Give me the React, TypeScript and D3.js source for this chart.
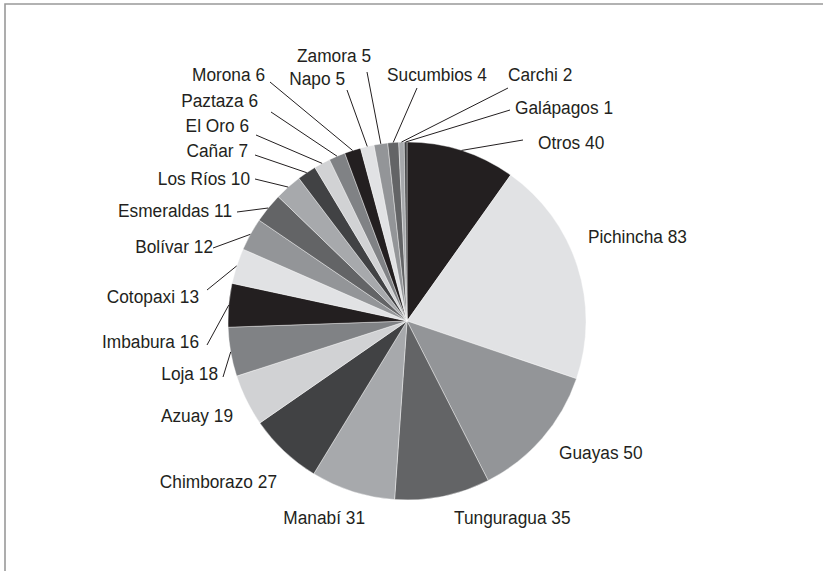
import React, { useEffect, useRef } from "react";
import * as d3 from "d3";

const width = 823;
const height = 571;
const cx = 407;
const cy = 321;
const radius = 179;

// provinces, clockwise from 12 o'clock
const provinces = [
  "Otros", "Pichincha", "Guayas", "Tunguragua", "Manabí", "Chimborazo",
  "Azuay", "Loja", "Imbabura", "Cotopaxi", "Bolívar", "Esmeraldas",
  "Los Ríos", "Cañar", "El Oro", "Paztaza", "Morona", "Napo", "Zamora",
  "Sucumbios", "Carchi", "Galápagos",
];
const counts = [40, 83, 50, 35, 31, 27, 19, 18, 16, 13, 12, 11, 10, 7, 6, 6, 6, 5, 5, 4, 2, 1];

const greys = ["#231f20", "#e1e2e4", "#939598", "#636466", "#a7a9ac", "#414244", "#d1d2d4", "#808285"];

// hand placed labels, offsets from the pie centre; line = leader end (null = no leader)
const labelLayout = [
  { dx: 131, dy: -179, anchor: "start", line: [116, -181] },
  { dx: 181, dy: -85, anchor: "start", line: null },
  { dx: 152, dy: 131, anchor: "start", line: null },
  { dx: 47, dy: 196, anchor: "start", line: null },
  { dx: -42, dy: 196, anchor: "end", line: null },
  { dx: -130, dy: 160, anchor: "end", line: null },
  { dx: -174, dy: 94, anchor: "end", line: null },
  { dx: -189, dy: 52, anchor: "end", line: [-184, 56] },
  { dx: -208, dy: 20, anchor: "end", line: [-200, 24] },
  { dx: -208, dy: -25, anchor: "end", line: [-200, -31] },
  { dx: -194, dy: -75, anchor: "end", line: [-194, -73] },
  { dx: -175, dy: -111, anchor: "end", line: [-170, -109] },
  { dx: -157, dy: -143, anchor: "end", line: [-152, -142] },
  { dx: -159, dy: -171, anchor: "end", line: [-152, -166] },
  { dx: -158, dy: -196, anchor: "end", line: [-151, -186] },
  { dx: -149, dy: -221, anchor: "end", line: [-136, -209] },
  { dx: -142, dy: -247, anchor: "end", line: [-137, -239] },
  { dx: -62, dy: -243, anchor: "end", line: [-60, -231] },
  { dx: -36, dy: -266, anchor: "end", line: [-40, -249] },
  { dx: -20, dy: -247, anchor: "start", line: [10, -233] },
  { dx: 101, dy: -247, anchor: "start", line: [101, -233] },
  { dx: 108, dy: -214, anchor: "start", line: [103, -211] },
];

export default function App() {
  const ref = useRef<SVGSVGElement>(null);

  useEffect(() => {
    document.body.style.margin = "0";
    const svg = d3.select(ref.current);
    svg.selectAll("*").remove();

    svg
      .append("path")
      .attr("d", `M5,${height} V4 H${width}`)
      .attr("fill", "none")
      .attr("stroke", "#999")
      .attr("stroke-width", 1.6);

    const data = provinces.map((name, i) => ({ name, value: counts[i] }));
    const pie = d3.pie<any>().sort(null).value((d) => d.value);
    const arcs = pie(data);
    const arc = d3.arc<any>().innerRadius(0).outerRadius(radius);
    const edge = d3.arc<any>().innerRadius(radius).outerRadius(radius);
    const color = d3.scaleOrdinal<number, string>().domain(d3.range(greys.length)).range(greys);

    const g = svg.append("g").attr("transform", `translate(${cx},${cy})`);

    g.selectAll("path.slice")
      .data(arcs)
      .join("path")
      .attr("class", "slice")
      .attr("d", arc)
      .attr("fill", (d, i) => color(i % greys.length))
      .attr("stroke", "#fff")
      .attr("stroke-width", 0.4);

    arcs.forEach((d, i) => {
      const lay = labelLayout[i];
      if (lay.line) {
        const [sx, sy] = edge.centroid(d);
        g.append("line")
          .attr("x1", sx)
          .attr("y1", sy)
          .attr("x2", lay.line[0])
          .attr("y2", lay.line[1])
          .attr("stroke", "#231f20")
          .attr("stroke-width", 1);
      }
      // condensed look: taller type squeezed horizontally
      g.append("g")
        .attr("transform", `translate(${lay.dx},${lay.dy}) scale(0.91,1)`)
        .append("text")
        .attr("text-anchor", lay.anchor)
        .attr("dy", "0.36em")
        .attr("font-family", "'Liberation Sans', Arial, sans-serif")
        .attr("font-size", 19)
        .attr("fill", "#231f20")
        .text(`${d.data.name} ${d.data.value}`);
    });
  }, []);

  return <svg ref={ref} width={width} height={height} style={{ display: "block", background: "#fff" }} />;
}
